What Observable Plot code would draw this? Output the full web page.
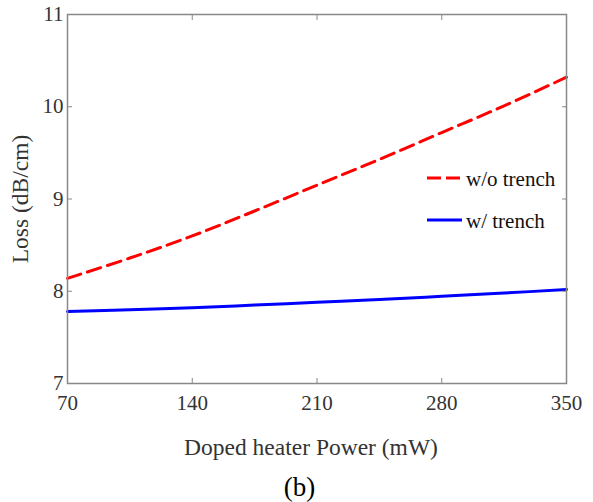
<!DOCTYPE html>
<html>
<head>
<meta charset="utf-8">
<script src="https://cdn.jsdelivr.net/npm/d3@7"></script>
<script src="https://cdn.jsdelivr.net/npm/@observablehq/plot@0.6"></script>
<style>
  body { margin: 0; background: #fff; font-family: "Liberation Serif", "Times New Roman", serif; }
  #wrap { position: relative; width: 593px; height: 502px; }
  #legend { position: absolute; left: 0; top: 0; width: 593px; height: 502px; pointer-events: none; }
  #caption { position: absolute; left: 0; width: 599px; top: 472px; text-align: center; font-size: 27px; line-height: 30px; color: #000; }
</style>
</head>
<body>
<div id="wrap"></div>
<script>
const power = [70, 105, 140, 175, 210, 245, 280, 315, 350];
const lossNoTrench = [8.14, 8.36, 8.60, 8.87, 9.15, 9.43, 9.72, 10.01, 10.32];
const lossTrench = [7.78, 7.80, 7.82, 7.85, 7.88, 7.91, 7.945, 7.98, 8.02];
const xTicks = [70, 140, 210, 280, 350];
const yTicks = [7, 8, 9, 10, 11];
const seriesNames = ["w/o trench", "w/ trench"];

const rows = power.map((p, i) => ({p, a: lossNoTrench[i], b: lossTrench[i]}));
const serif = "'Liberation Serif', 'Times New Roman', serif";

const chart = Plot.plot({
  width: 593,
  height: 470,
  marginTop: 14,
  marginLeft: 67,
  marginRight: 27,
  marginBottom: 87,
  style: {fontFamily: serif, fontSize: "21px", color: "#333", background: "#fff"},
  x: {domain: [70, 350]},
  y: {domain: [7, 11]},
  marks: [
    Plot.line(rows, {x: "p", y: "a", stroke: "#ff0000", strokeWidth: 3, strokeDasharray: "14,7", curve: "catmull-rom"}),
    Plot.line(rows, {x: "p", y: "b", stroke: "#0000ff", strokeWidth: 3, curve: "catmull-rom"}),
    Plot.axisX({ticks: xTicks, tickFormat: d => String(d), tickSize: -5, tickPadding: 17, stroke: "#888", fill: "#333",
      label: "Doped heater Power (mW)", labelAnchor: "center", labelOffset: 71, labelArrow: "none", fontSize: 21}),
    Plot.axisX({anchor: "top", ticks: xTicks, tickFormat: () => "", tickSize: -5, stroke: "#888", label: null}),
    Plot.axisY({ticks: yTicks, tickFormat: d => String(d), tickSize: -5, tickPadding: 9, stroke: "#888", fill: "#333",
      label: "Loss (dB/cm)", labelAnchor: "center", labelOffset: 56, labelArrow: "none", fontSize: 21}),
    Plot.axisY({anchor: "right", ticks: yTicks, tickFormat: () => "", tickSize: -5, stroke: "#888", label: null}),
    Plot.frame({stroke: "#888", strokeWidth: 1.5})
  ]
});
chart.querySelectorAll("g[aria-label='x-axis label'] text, g[aria-label='y-axis label'] text").forEach(t => t.style.fontSize = "23.5px");
chart.querySelectorAll("g[aria-label='x-axis label'] text").forEach(t => t.setAttribute("dx", -6));

const wrap = document.getElementById("wrap");
wrap.appendChild(chart);

const ns = "http://www.w3.org/2000/svg";
const leg = document.createElementNS(ns, "svg");
leg.setAttribute("id", "legend");
leg.setAttribute("width", 593);
leg.setAttribute("height", 502);
const legendItems = [
  {name: seriesNames[0], color: "#ff0000", dash: "14,5", y: 178},
  {name: seriesNames[1], color: "#0000ff", dash: null, y: 220}
];
legendItems.forEach(it => {
  const l = document.createElementNS(ns, "line");
  l.setAttribute("x1", 427); l.setAttribute("x2", 462);
  l.setAttribute("y1", it.y); l.setAttribute("y2", it.y);
  l.setAttribute("stroke", it.color); l.setAttribute("stroke-width", 3);
  if (it.dash) l.setAttribute("stroke-dasharray", it.dash);
  leg.appendChild(l);
  const t = document.createElementNS(ns, "text");
  t.setAttribute("x", 466); t.setAttribute("y", it.y + 8);
  t.setAttribute("font-family", serif);
  t.setAttribute("font-size", 21);
  t.setAttribute("fill", "#111");
  t.textContent = it.name;
  leg.appendChild(t);
});
wrap.appendChild(leg);

const cap = document.createElement("div");
cap.id = "caption";
cap.textContent = "(b)";
wrap.appendChild(cap);
</script>
</body>
</html>
